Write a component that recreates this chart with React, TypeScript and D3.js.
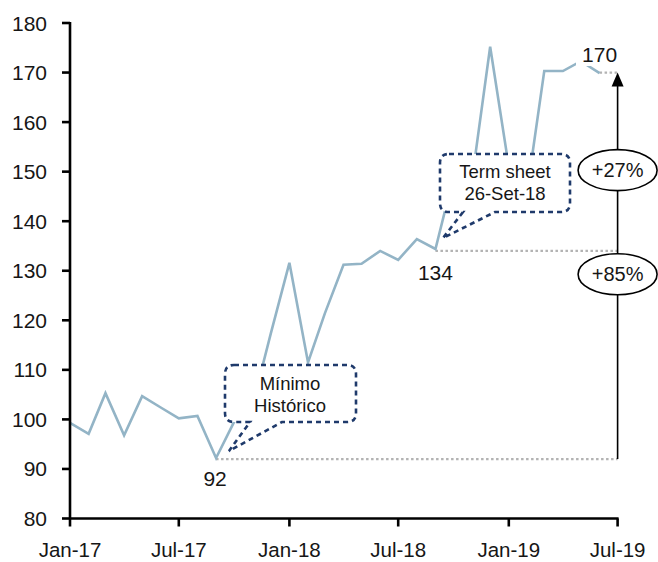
import React from "react";
import * as d3 from "d3";

const months: string[] = [
  "2017-01", "2017-02", "2017-03", "2017-04", "2017-05", "2017-06",
  "2017-07", "2017-08", "2017-09", "2017-10", "2017-11", "2017-12",
  "2018-01", "2018-02", "2018-03", "2018-04", "2018-05", "2018-06",
  "2018-07", "2018-08", "2018-09", "2018-10", "2018-11", "2018-12",
  "2019-01", "2019-02", "2019-03", "2019-04", "2019-05", "2019-06",
];
const values: number[] = [
  99.3, 97.1, 105.3, 96.8, 104.7, 102.4,
  100.2, 100.7, 92.2, 99.5, 103.0, 117.3,
  131.6, 111.5, 121.4, 131.2, 131.4, 134.0,
  132.2, 136.4, 134.4, 149.0, 148.6, 175.2,
  151.0, 146.5, 170.3, 170.3, 172.3, 169.9,
];
const yTicks: number[] = [80, 90, 100, 110, 120, 130, 140, 150, 160, 170, 180];
const xTickLabels: string[] = ["Jan-17", "Jul-17", "Jan-18", "Jul-18", "Jan-19", "Jul-19"];
const xTickDates: string[] = ["2017-01", "2017-07", "2018-01", "2018-07", "2019-01", "2019-07"];

const minLabel = "92";
const termLabel = "134";
const lastLabel = "170";
const minValue = 92;
const termValue = 134;
const lastValue = 170;
const minDate = "2017-09";
const termDate = "2018-09";
const lastDate = "2019-06";
const endDate = "2019-07";
const pctUpper = "+27%";
const pctLower = "+85%";
const minNote: string[] = ["Mínimo", "Histórico"];
const termNote: string[] = ["Term sheet", "26-Set-18"];

const parse = d3.timeParse("%Y-%m");
const FONT = "'Liberation Sans', Arial, sans-serif";

export default function App() {
  const W = 658, H = 562;
  const x = d3.scaleTime().domain([parse("2017-01")!, parse("2019-07")!]).range([70, 617.6]);
  const y = d3.scaleLinear().domain([80, 180]).range([518.5, 23]);
  const data = months.map((m, i) => ({ d: parse(m)!, v: values[i] }));
  const line = d3.line<{ d: Date; v: number }>().x((p) => x(p.d)).y((p) => y(p.v));

  const xEnd = x(parse(endDate)!);
  const xMin = x(parse(minDate)!);
  const xTerm = x(parse(termDate)!);
  const xLast = x(parse(lastDate)!);

  const navy = "#1f3a6b";
  const dash = "5 4";
  const txt = "#161616";

  const callout = (x0: number, y0: number, x1: number, y1: number, r: number, ta: number, tb: number, tx: number, ty: number) => {
    const p = d3.path();
    p.moveTo(x0 + r, y0);
    p.lineTo(x1 - r, y0);
    p.quadraticCurveTo(x1, y0, x1, y0 + r);
    p.lineTo(x1, y1 - r);
    p.quadraticCurveTo(x1, y1, x1 - r, y1);
    p.lineTo(tb, y1);
    p.lineTo(tx, ty);
    p.lineTo(ta, y1);
    p.lineTo(x0 + r, y1);
    p.quadraticCurveTo(x0, y1, x0, y1 - r);
    p.lineTo(x0, y0 + r);
    p.quadraticCurveTo(x0, y0, x0 + r, y0);
    p.closePath();
    return p.toString();
  };

  return (
    <svg width={W} height={H} style={{ position: "absolute", left: 0, top: 0, background: "#fff" }} fontFamily={FONT}>
      {/* reference dotted lines */}
      <line x1={xMin} x2={xEnd} y1={y(minValue)} y2={y(minValue)} stroke="#b3b3b3" strokeWidth={2.2} strokeDasharray="2.5 2.5" />
      <line x1={xTerm} x2={xEnd} y1={y(termValue)} y2={y(termValue)} stroke="#b3b3b3" strokeWidth={2.2} strokeDasharray="2.5 2.5" />
      <line x1={xLast} x2={xEnd} y1={y(lastValue)} y2={y(lastValue)} stroke="#b3b3b3" strokeWidth={2.2} strokeDasharray="2.5 2.5" />

      {/* series */}
      <path d={line(data)!} fill="none" stroke="#93b4c6" strokeWidth={2.6} strokeLinejoin="miter" />

      {/* value labels */}
      <rect x={576} y={41} width={50} height={25} fill="#fff" />
      <text x={xLast} y={y(lastValue) - 11} textAnchor="middle" fontSize={21} fill={txt}>{lastLabel}</text>
      <text x={xMin - 1} y={y(minValue) + 27} textAnchor="middle" fontSize={21} fill={txt}>{minLabel}</text>
      <text x={xTerm} y={y(termValue) + 29} textAnchor="middle" fontSize={21} fill={txt}>{termLabel}</text>

      {/* callouts */}
      <path d={callout(225, 365, 356, 422, 9, 250, 282, 229, 451)} fill="#fff" stroke={navy} strokeWidth={2.6} strokeDasharray={dash} />
      <text textAnchor="middle" fontSize={18.5} fill={txt}>
        <tspan x={290} y={390}>{minNote[0]}</tspan>
        <tspan x={290} y={411.5}>{minNote[1]}</tspan>
      </text>

      <path d={callout(440, 154, 570, 212, 9, 463, 495, 443, 238)} fill="#fff" stroke={navy} strokeWidth={2.6} strokeDasharray={dash} />
      <text textAnchor="middle" fontSize={18.5} fill={txt}>
        <tspan x={505} y={178}>{termNote[0]}</tspan>
        <tspan x={505} y={199.5}>{termNote[1]}</tspan>
      </text>

      {/* growth arrow */}
      <line x1={xEnd} x2={xEnd} y1={y(minValue)} y2={y(lastValue) + 12} stroke="#000" strokeWidth={1.6} />
      <path d={`M${xEnd},${y(lastValue)} L${xEnd - 6},${y(lastValue) + 14} L${xEnd + 6},${y(lastValue) + 14} Z`} fill="#000" />
      <ellipse cx={xEnd} cy={y(150.3)} rx={39.5} ry={20.5} fill="#fff" stroke="#000" strokeWidth={1.6} />
      <text x={xEnd} y={y(150.3) + 7} textAnchor="middle" fontSize={20} fill={txt}>{pctUpper}</text>
      <ellipse cx={xEnd} cy={y(129.3)} rx={39.5} ry={20.5} fill="#fff" stroke="#000" strokeWidth={1.6} />
      <text x={xEnd} y={y(129.3) + 7} textAnchor="middle" fontSize={20} fill={txt}>{pctLower}</text>

      {/* y axis */}
      <line x1={70} x2={70} y1={y(180) - 1} y2={y(80)} stroke="#000" strokeWidth={2.6} />
      {yTicks.map((t) => (
        <g key={t}>
          <line x1={62} x2={70} y1={y(t)} y2={y(t)} stroke="#000" strokeWidth={2.6} />
          <text x={47} y={y(t) + 7.5} textAnchor="end" fontSize={21} fill={txt}>{t}</text>
        </g>
      ))}
      {/* x axis */}
      <line x1={70} x2={x(parse("2019-07")!) + 1} y1={y(80)} y2={y(80)} stroke="#000" strokeWidth={2.6} />
      {xTickDates.map((d, i) => (
        <g key={d}>
          <line x1={x(parse(d)!)} x2={x(parse(d)!)} y1={y(80)} y2={y(80) + 8} stroke="#000" strokeWidth={2.6} />
          <text x={x(parse(d)!)} y={y(80) + 38.5} textAnchor="middle" fontSize={20.5} fill={txt}>{xTickLabels[i]}</text>
        </g>
      ))}
    </svg>
  );
}
